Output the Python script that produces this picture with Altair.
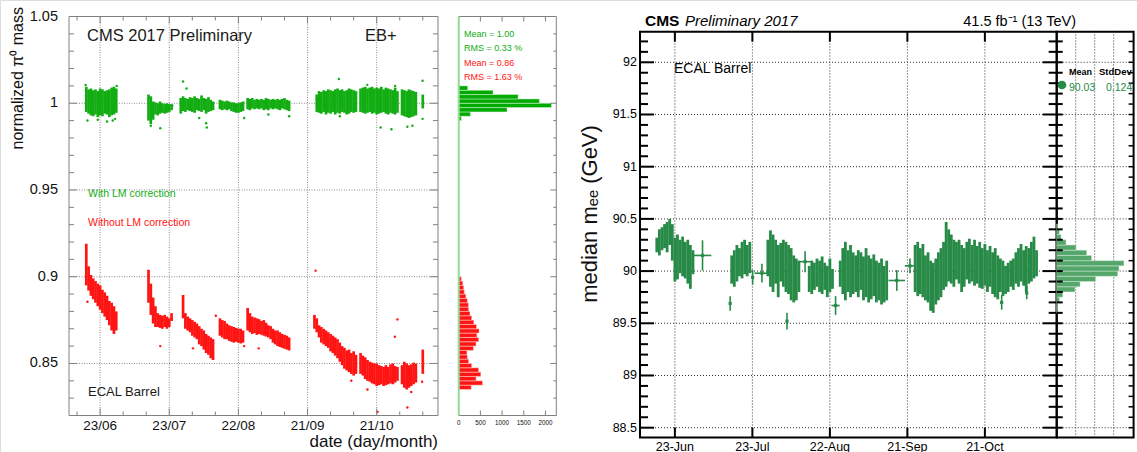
import altair as alt
import pandas as pd

SANS = "Liberation Sans, Arial, Helvetica, sans-serif"

# ---------------- values ----------------
# x positions are days after 23 June 2017
TICK_DAYS = [0, 30, 60, 90, 120]
LEFT_TICK_LABELS = ["23/06", "23/07", "22/08", "21/09", "21/10"]
RIGHT_TICK_LABELS = ["23-Jun", "23-Jul", "22-Aug", "21-Sep", "21-Oct"]
LEFT_MINOR_DAYS = [-10, 10, 20, 40, 50, 70, 80, 100, 110, 130, 140]

LEFT_Y_LABELS = [0.85, 0.9, 0.95, 1.0, 1.05]
LEFT_Y_TEXT = ["0.85", "0.9", "0.95", "1", "1.05"]
LEFT_Y_MAJOR = [0.85, 0.9, 0.95, 1.0]
LEFT_Y_MINOR = [0.82, 0.83, 0.84, 0.86, 0.87, 0.88, 0.89, 0.91, 0.92, 0.93, 0.94,
                0.96, 0.97, 0.98, 0.99, 1.01, 1.02, 1.03, 1.04]
LH_X_LABELS = [0, 500, 1000, 1500, 2000]
LH_X_TEXT = ["0", "500", "1000", "1500", "2000"]

RIGHT_Y_MAJOR = [88.5, 89, 89.5, 90, 90.5, 91, 91.5, 92]
RIGHT_Y_TEXT = ["88.5", "89", "89.5", "90", "90.5", "91", "91.5", "92"]
RIGHT_Y_MINOR = [88.6, 88.7, 88.8, 88.9, 89.1, 89.2, 89.3, 89.4, 89.6, 89.7, 89.8, 89.9,
                 90.1, 90.2, 90.3, 90.4, 90.6, 90.7, 90.8, 90.9, 91.1, 91.2, 91.3, 91.4,
                 91.6, 91.7, 91.8, 91.9, 92.1, 92.2]
RH_GRID = [100, 200, 300]

# (day, low, high) spread of normalized pi0 mass, with LM correction
L_CORR = [
    (-6, .9950, 1.0095), (-5, .9940, 1.0080), (-4, .9930, 1.0085), (-3, .9925, 1.0075),
    (-2, .9935, 1.0080), (-1, .9920, 1.0070), (0, .9930, 1.0085), (1, .9925, 1.0080),
    (2, .9940, 1.0070), (3, .9935, 1.0075), (4, .9920, 1.0080), (5, .9930, 1.0090),
    (6, .9935, 1.0095), (7, .9945, 1.0085),
    (21, .9900, 1.0050), (22, .9880, 1.0040), (23, .9905, 1.0010), (24, .9935, 1.0005),
    (25, .9930, 1.0000), (26, .9940, 1.0010), (27, .9945, 1.0000), (28, .9940, .9995),
    (29, .9945, 1.0000), (30, .9950, .9995), (31, .9960, .9995),
    (35, .9940, 1.0030), (36, .9955, 1.0040), (37, .9950, 1.0030), (38, .9960, 1.0025),
    (39, .9955, 1.0035), (40, .9950, 1.0030), (41, .9945, 1.0040), (42, .9960, 1.0030),
    (43, .9955, 1.0025), (44, .9950, 1.0045), (45, .9960, 1.0030), (46, .9940, 1.0025),
    (47, .9950, 1.0035), (48, .9955, 1.0020), (49, .9960, 1.0010),
    (52, .9965, 1.0020), (53, .9960, 1.0015), (54, .9965, 1.0010), (55, .9960, 1.0015),
    (56, .9965, 1.0010), (57, .9955, 1.0005), (58, .9950, 1.0005), (59, .9945, 1.0000),
    (60, .9945, 1.0000), (61, .9950, 1.0005), (62, .9955, 1.0010),
    (64, .9965, 1.0030), (65, .9960, 1.0025), (66, .9970, 1.0030), (67, .9965, 1.0020),
    (68, .9970, 1.0025), (69, .9965, 1.0020), (70, .9970, 1.0025), (71, .9960, 1.0020),
    (72, .9965, 1.0030), (73, .9960, 1.0025), (74, .9970, 1.0020), (75, .9965, 1.0025),
    (76, .9970, 1.0020), (77, .9965, 1.0025), (78, .9960, 1.0020), (79, .9970, 1.0025),
    (80, .9965, 1.0030), (81, .9960, 1.0020), (82, .9955, 1.0015),
    (94, .9950, 1.0050), (95, .9945, 1.0070), (96, .9940, 1.0065), (97, .9950, 1.0075),
    (98, .9935, 1.0070), (99, .9945, 1.0080), (100, .9940, 1.0075), (101, .9950, 1.0070),
    (102, .9935, 1.0080), (103, .9945, 1.0085), (104, .9940, 1.0075), (105, .9950, 1.0080),
    (106, .9945, 1.0070), (107, .9935, 1.0075), (108, .9940, 1.0085), (109, .9950, 1.0080),
    (110, .9945, 1.0075), (111, .9950, 1.0070),
    (113, .9950, 1.0085), (114, .9945, 1.0090), (115, .9940, 1.0095), (116, .9945, 1.0085),
    (117, .9950, 1.0090), (118, .9940, 1.0095), (119, .9945, 1.0085), (120, .9935, 1.0090),
    (121, .9940, 1.0085), (122, .9945, 1.0095), (123, .9950, 1.0080), (124, .9940, 1.0090),
    (125, .9935, 1.0085), (126, .9945, 1.0080), (127, .9940, 1.0075), (128, .9935, 1.0090),
    (129, .9945, 1.0070),
    (131, .9930, 1.0080), (132, .9925, 1.0075), (133, .9920, 1.0070), (134, .9915, 1.0080),
    (135, .9920, 1.0075), (136, .9925, 1.0070), (137, .9930, 1.0065),
    (140, .9970, 1.0050),
]
# (day, low, high) without LM correction
L_RAW = [
    (-6, .8950, .9190), (-5, .8920, .9060), (-4, .8890, .9010), (-3, .8870, .8990),
    (-2, .8850, .8975), (-1, .8830, .8960), (0, .8810, .8950), (1, .8790, .8925),
    (2, .8770, .8910), (3, .8750, .8890), (4, .8720, .8860), (5, .8690, .8850),
    (6, .8670, .8830), (7, .8690, .8800),
    (21, .8850, .9040), (22, .8780, .8960), (23, .8730, .8880), (24, .8710, .8830),
    (25, .8710, .8790), (26, .8705, .8780), (27, .8700, .8775), (28, .8710, .8780),
    (29, .8700, .8770), (30, .8710, .8760), (31, .8745, .8790),
    (36, .8760, .8895), (37, .8700, .8790), (38, .8690, .8770), (39, .8680, .8760),
    (40, .8660, .8750), (41, .8650, .8740), (42, .8640, .8730), (43, .8610, .8715),
    (44, .8600, .8700), (45, .8580, .8690), (46, .8560, .8670), (47, .8550, .8660),
    (48, .8530, .8650), (49, .8520, .8640),
    (52, .8660, .8760), (53, .8650, .8750), (54, .8640, .8745), (55, .8640, .8730),
    (56, .8630, .8720), (57, .8625, .8715), (58, .8620, .8710), (59, .8625, .8705),
    (60, .8620, .8700), (61, .8615, .8700), (62, .8620, .8690),
    (64, .8690, .8820), (65, .8680, .8790), (66, .8670, .8770), (67, .8675, .8765),
    (68, .8665, .8760), (69, .8670, .8755), (70, .8665, .8745), (71, .8660, .8750),
    (72, .8655, .8735), (73, .8650, .8720), (74, .8640, .8715), (75, .8620, .8700),
    (76, .8610, .8690), (77, .8600, .8690), (78, .8595, .8680), (79, .8590, .8670),
    (80, .8585, .8665), (81, .8580, .8660), (82, .8575, .8650),
    (93, .8700, .8780), (94, .8680, .8760), (95, .8650, .8720), (96, .8620, .8710),
    (97, .8610, .8700), (98, .8600, .8690), (99, .8590, .8680), (100, .8570, .8670),
    (101, .8560, .8660), (102, .8545, .8650), (103, .8530, .8640), (104, .8510, .8620),
    (105, .8490, .8600), (106, .8470, .8590), (107, .8460, .8575), (108, .8450, .8580),
    (109, .8440, .8560), (110, .8430, .8570), (111, .8440, .8550),
    (113, .8440, .8560), (114, .8430, .8545), (115, .8410, .8535), (116, .8400, .8520),
    (117, .8395, .8510), (118, .8385, .8505), (119, .8380, .8500), (120, .8370, .8500),
    (121, .8375, .8490), (122, .8380, .8485), (123, .8370, .8480), (124, .8375, .8490),
    (125, .8380, .8480), (126, .8385, .8495), (127, .8380, .8500), (128, .8390, .8485),
    (129, .8400, .8480),
    (131, .8380, .8490), (132, .8360, .8510), (133, .8350, .8500), (134, .8360, .8490),
    (135, .8370, .8495), (136, .8380, .8505), (137, .8390, .8500),
    (140, .8440, .8580),
]
# isolated points (day, value)
L_CORR_OUT = [(-6.3, 1.0105), (-5.5, .9900), (-1, .9905), (3, .9895), (5.5, .9900), (6.5, .9910),
              (7.2, 1.0100), (22, .9870), (26.1, .9856), (31.3, .9985), (36, 1.0125),
              (37.5, 1.0085), (43, .9915), (46, .9885), (46.3, .9860), (62.5, .9915),
              (73, .9935), (82, .9925), (103.6, 1.0140), (104, .9925), (115.9, 1.0106),
              (121.7, .9860), (126.4, .9850), (128, 1.0100), (133.3, .9865), (135.5, .9870),
              (139.9, .9910), (139.9, 1.0130)]
L_RAW_OUT = [(-5.5, .8856), (26.1, .8600), (40.3, .8587), (50.2, .8775), (62.5, .8600),
             (68.8, .8587), (93.5, .9035), (109, .8400), (116, .8350), (120.4, .8221),
             (127.9, .8654), (129, .8754), (133.3, .8246), (135, .8335), (139.7, .8395)]

# projection histograms of the left panel
LH_CORR_EDGES = [0.9900, 0.9925, 0.9950, 0.9975, 1.0000, 1.0025, 1.0050, 1.0075, 1.0100]
LH_CORR_COUNTS = [60, 270, 1115, 2140, 1860, 1370, 792, 208]
LH_RAW_EDGES = [0.8350, 0.8375, 0.8400, 0.8425, 0.8450, 0.8475, 0.8500, 0.8525, 0.8550,
                0.8575, 0.8600, 0.8625, 0.8650, 0.8675, 0.8700, 0.8725, 0.8750, 0.8775,
                0.8800, 0.8825, 0.8850, 0.8875, 0.8900, 0.8925, 0.8950, 0.8975, 0.9000]
LH_RAW_COUNTS = [290, 550, 400, 510, 460, 300, 230, 200, 190, 340, 400, 460, 420, 470,
                 410, 350, 300, 260, 230, 225, 200, 165, 130, 115, 95, 60]

# (day, low, high) spread of the median m_ee points incl. their error bars
R_MED = [
    (-7, 90.18, 90.32), (-6, 90.15, 90.40), (-5, 90.20, 90.42), (-4, 90.22, 90.45),
    (-3, 90.18, 90.47), (-2, 90.25, 90.50), (-1, 90.10, 90.45), (0, 89.90, 90.32),
    (1, 89.92, 90.35), (2, 89.98, 90.30), (3, 89.95, 90.33), (4, 89.93, 90.28),
    (5, 89.88, 90.30), (6, 89.83, 90.25), (7, 89.97, 90.20),
    (22, 89.88, 90.15), (23, 89.85, 90.20), (24, 89.90, 90.25), (25, 89.95, 90.22),
    (26, 89.93, 90.28), (27, 89.97, 90.30), (28, 89.95, 90.25), (29, 89.98, 90.28),
    (36, 89.95, 90.30), (37, 89.85, 90.39), (38, 89.80, 90.35), (39, 89.88, 90.30),
    (40, 89.75, 90.25), (41, 89.90, 90.27), (42, 89.85, 90.30), (43, 89.80, 90.28),
    (44, 89.78, 90.25), (45, 89.72, 90.22), (46, 89.70, 90.15), (47, 89.72, 90.12),
    (48, 89.80, 90.10),
    (52, 89.80, 90.05), (53, 89.78, 90.10), (54, 89.82, 90.08), (55, 89.85, 90.12),
    (56, 89.80, 90.10), (57, 89.78, 90.14), (58, 89.82, 90.08), (59, 89.75, 90.05),
    (60, 89.80, 90.12), (61, 89.83, 90.02),
    (64, 89.85, 90.10), (65, 89.78, 90.22), (66, 89.72, 90.28), (67, 89.80, 90.20),
    (68, 89.75, 90.25), (69, 89.78, 90.18), (70, 89.80, 90.15), (71, 89.75, 90.20),
    (72, 89.82, 90.18), (73, 89.72, 90.14), (74, 89.75, 90.22), (75, 89.70, 90.15),
    (76, 89.73, 90.12), (77, 89.76, 90.16), (78, 89.70, 90.10), (79, 89.72, 90.08),
    (80, 89.68, 90.12), (81, 89.70, 90.05), (82, 89.72, 90.10),
    (93, 89.80, 90.25), (94, 89.76, 90.28), (95, 89.78, 90.22), (96, 89.75, 90.26),
    (97, 89.72, 90.15), (98, 89.70, 90.18), (99, 89.62, 90.10), (100, 89.60, 90.08),
    (101, 89.68, 90.12), (102, 89.72, 90.18), (103, 89.75, 90.22), (104, 89.82, 90.28),
    (105, 89.85, 90.47), (106, 89.90, 90.40), (107, 89.88, 90.35), (108, 89.85, 90.30),
    (109, 89.92, 90.28), (110, 89.88, 90.30), (111, 89.80, 90.25), (112, 89.85, 90.22),
    (113, 89.92, 90.28), (114, 89.88, 90.31), (115, 89.90, 90.25), (116, 89.86, 90.30),
    (117, 89.88, 90.24), (118, 89.84, 90.28), (119, 89.83, 90.22), (120, 89.86, 90.26),
    (121, 89.80, 90.20), (122, 89.85, 90.24), (123, 89.78, 90.18), (124, 89.75, 90.22),
    (125, 89.73, 90.15), (126, 89.80, 90.12), (127, 89.76, 90.10), (128, 89.78, 90.05),
    (129, 89.80, 90.08), (130, 89.85, 90.10), (131, 89.82, 90.12), (132, 89.88, 90.18),
    (133, 89.85, 90.22), (134, 89.90, 90.26), (135, 89.86, 90.20), (136, 89.80, 90.24),
    (137, 89.88, 90.22), (138, 89.90, 90.28), (139, 89.93, 90.33), (140, 89.95, 90.20),
]
# isolated points: (day, median, half width in days, error)
R_ISO = [(10.7, 90.15, 3.4, 0.145), (21.4, 89.69, 0, 0.07), (30.1, 89.94, 0, 0.07),
         (33.7, 89.98, 2.9, 0.09), (43.4, 89.52, 0, 0.08), (50.4, 90.09, 2.3, 0.10),
         (62.2, 89.67, 1.6, 0.09), (85.9, 89.91, 3.2, 0.10), (91.0, 90.05, 2.0, 0.07),
         (126.5, 89.70, 0, 0.07), (136.2, 89.79, 0, 0.06)]

RH_EDGES = [89.60, 89.65, 89.70, 89.75, 89.80, 89.85, 89.90, 89.95, 90.00, 90.05, 90.10,
            90.15, 90.20, 90.25, 90.30, 90.35, 90.40, 90.45]
RH_COUNTS = [3, 4, 14, 32, 96, 123, 205, 321, 328, 354, 184, 158, 102, 49, 23, 14, 5]

# ---------------- styling ----------------
GREEN = "#12ad12"
RED = "#ff1414"
LH_GREEN = "#00aa00"
GRAY = "#808080"
RGREEN = "#278a47"
RH_FILL = "#55a66a"

L_XDOM = [-13.5, 146.6]
L_YDOM = [0.82, 1.05]
LH_XDOM = [0, 2250]
R_XDOM = [-13.5, 147.8]
R_YDOM = [88.406, 92.293]
RH_XDOM = [0, 405]

LX = alt.Scale(domain=L_XDOM, range=[69, 438], nice=False, zero=False)
LY = alt.Scale(domain=L_YDOM, range=[415.5, 16.5], nice=False, zero=False)
LHX = alt.Scale(domain=LH_XDOM, range=[458.7, 556.3], nice=False, zero=False)
RX = alt.Scale(domain=R_XDOM, range=[640, 1056.7], nice=False, zero=False)
RY = alt.Scale(domain=R_YDOM, range=[437.5, 31.7], nice=False, zero=False)
RHX = alt.Scale(domain=RH_XDOM, range=[1056.7, 1133.6], nice=False, zero=False)

ONE = pd.DataFrame({"k": [0]})


def frame(xdom, ydom, xsc, ysc, color, width):
    df = pd.DataFrame({"x0": [xdom[0]], "x1": [xdom[1]], "y0": [ydom[0]], "y1": [ydom[1]]})
    return alt.Chart(df).mark_rect(fillOpacity=0, stroke=color, strokeWidth=width).encode(
        x=alt.X("x0:Q", scale=xsc, axis=None),
        x2="x1:Q",
        y=alt.Y("y0:Q", scale=ysc, axis=None),
        y2="y1:Q",
    )


def hticks(vals, xd, length, color, width):
    df = pd.DataFrame({"v": vals, "e": [xd] * len(vals)})
    return alt.Chart(df).mark_rule(color=color, strokeWidth=width, x2Offset=length).encode(
        x=alt.X("e:Q", axis=None), x2="e:Q", y=alt.Y("v:Q", axis=None))


def vticks(vals, yd, length, color, width):
    df = pd.DataFrame({"v": vals, "e": [yd] * len(vals)})
    return alt.Chart(df).mark_rule(color=color, strokeWidth=width, y2Offset=length).encode(
        y=alt.Y("e:Q", axis=None), y2="e:Q", x=alt.X("v:Q", axis=None))


def ylabels(vals, texts, xd, pad, size, color):
    df = pd.DataFrame({"v": vals, "t": texts, "e": [xd] * len(vals)})
    return alt.Chart(df).mark_text(align="right", baseline="middle", dx=-pad, font=SANS,
                                   fontSize=size, color=color).encode(
        x=alt.X("e:Q", axis=None), y=alt.Y("v:Q", axis=None), text="t:N")


def xlabels(vals, texts, yd, pad, size, color):
    df = pd.DataFrame({"v": vals, "t": texts, "e": [yd] * len(vals)})
    return alt.Chart(df).mark_text(align="center", baseline="top", dy=pad, font=SANS,
                                   fontSize=size, color=color).encode(
        x=alt.X("v:Q", axis=None), y=alt.Y("e:Q", axis=None), text="t:N")


def vgrid(vals, ydom, color, dash):
    df = pd.DataFrame({"v": vals, "a": [ydom[0]] * len(vals), "b": [ydom[1]] * len(vals)})
    return alt.Chart(df).mark_rule(color=color, strokeWidth=1, strokeDash=dash).encode(
        x=alt.X("v:Q", axis=None), y=alt.Y("a:Q", axis=None), y2="b:Q")


def hgrid(vals, xdom, color, dash):
    df = pd.DataFrame({"v": vals, "a": [xdom[0]] * len(vals), "b": [xdom[1]] * len(vals)})
    return alt.Chart(df).mark_rule(color=color, strokeWidth=1, strokeDash=dash).encode(
        y=alt.Y("v:Q", axis=None), x=alt.X("a:Q", axis=None), x2="b:Q")


def spread(rows, color, width):
    df = pd.DataFrame(rows, columns=["d", "lo", "hi"])
    return alt.Chart(df).mark_rule(color=color, strokeWidth=width).encode(
        x=alt.X("d:Q", axis=None), y=alt.Y("lo:Q", axis=None), y2="hi:Q")


def dots(rows, color):
    df = pd.DataFrame(rows, columns=["d", "v"])
    return alt.Chart(df).mark_circle(color=color, size=6, opacity=1).encode(
        x=alt.X("d:Q", axis=None), y=alt.Y("v:Q", axis=None))


def hist(edges, counts, color, sep):
    df = pd.DataFrame({"lo": edges[:-1], "hi": edges[1:], "n": counts,
                       "z": [0] * len(counts)})
    return alt.Chart(df).mark_rect(color=color, stroke=sep, strokeWidth=0.5).encode(
        x=alt.X("z:Q", axis=None), x2="n:Q",
        y=alt.Y("lo:Q", axis=None), y2="hi:Q")


def txt(s, x, y, size, color="black", align="left", baseline="alphabetic",
        weight="normal", style="normal", angle=0):
    return alt.Chart(ONE).mark_text(
        text=s, align=align, baseline=baseline, font=SANS, fontSize=size,
        fontWeight=weight, fontStyle=style, angle=angle, color=color,
        x=x, y=y,
    )


# ---------------- left panel: pi0 mass vs date ----------------
left = alt.layer(
    frame(L_XDOM, L_YDOM, LX, LY, GRAY, 1),
    vgrid(TICK_DAYS, L_YDOM, "#8c8c8c", [1, 1.5]),
    hgrid(LEFT_Y_MAJOR, L_XDOM, "#8c8c8c", [1, 1.5]),
    spread(L_CORR, GREEN, 2.7),
    spread(L_RAW, RED, 2.7),
    dots(L_CORR_OUT, GREEN),
    dots(L_RAW_OUT, RED),
    hticks(LEFT_Y_MAJOR, L_XDOM[0], 8, GRAY, 1),
    hticks(LEFT_Y_MINOR, L_XDOM[0], 5, GRAY, 1),
    hticks(LEFT_Y_MAJOR, L_XDOM[1], -8, GRAY, 1),
    hticks(LEFT_Y_MINOR, L_XDOM[1], -5, GRAY, 1),
    vticks(TICK_DAYS, L_YDOM[0], -7, GRAY, 1),
    vticks(LEFT_MINOR_DAYS, L_YDOM[0], -4, GRAY, 1),
    vticks(TICK_DAYS, L_YDOM[1], 7, GRAY, 1),
    vticks(LEFT_MINOR_DAYS, L_YDOM[1], 4, GRAY, 1),
    ylabels(LEFT_Y_LABELS, LEFT_Y_TEXT, L_XDOM[0], 11, 14.5, "#111"),
    xlabels(TICK_DAYS, LEFT_TICK_LABELS, L_YDOM[0], 3, 13.5, "#111"),
)

# ---------------- left projection histogram ----------------
edge_df = pd.DataFrame({"x": [0], "a": [L_YDOM[0]], "b": [L_YDOM[1]]})
green_edge = alt.Chart(edge_df).mark_rule(color="#95dc95", strokeWidth=2).encode(
    x=alt.X("x:Q", axis=None), y=alt.Y("a:Q", axis=None), y2="b:Q")
left_hist = alt.layer(
    frame(LH_XDOM, L_YDOM, LHX, LY, GRAY, 1),
    hist(LH_CORR_EDGES, LH_CORR_COUNTS, LH_GREEN, "#d8f5d8"),
    hist(LH_RAW_EDGES, LH_RAW_COUNTS, RED, "#ffd8d8"),
    hticks(LEFT_Y_MAJOR, LH_XDOM[1], -6, GRAY, 1),
    hticks(LEFT_Y_MINOR, LH_XDOM[1], -3, GRAY, 1),
    vticks(LH_X_LABELS[1:], L_YDOM[1], 5, GRAY, 1),
    vticks(LH_X_LABELS[1:], L_YDOM[0], -5, GRAY, 1),
    green_edge,
    xlabels(LH_X_LABELS, LH_X_TEXT, L_YDOM[0], 4, 6.3, "#111"),
)

# ---------------- right panel: median m_ee vs date ----------------
iso = pd.DataFrame(R_ISO, columns=["d", "v", "dx", "dv"])
iso["lo"] = iso["v"] - iso["dv"]
iso["hi"] = iso["v"] + iso["dv"]
iso["x0"] = iso["d"] - iso["dx"]
iso["x1"] = iso["d"] + iso["dx"]
iso_v = alt.Chart(iso).mark_rule(color=RGREEN, strokeWidth=1.6).encode(
    x=alt.X("d:Q", axis=None), y=alt.Y("lo:Q", axis=None), y2="hi:Q")
iso_h = alt.Chart(iso).mark_rule(color=RGREEN, strokeWidth=1.6).encode(
    x=alt.X("x0:Q", axis=None), x2="x1:Q", y=alt.Y("v:Q", axis=None))
iso_p = alt.Chart(iso).mark_square(color=RGREEN, size=10, opacity=1).encode(
    x=alt.X("d:Q", axis=None), y=alt.Y("v:Q", axis=None))

right = alt.layer(
    frame(R_XDOM, R_YDOM, RX, RY, "black", 2),
    vgrid(TICK_DAYS, R_YDOM, "#333", [1, 2]),
    hgrid(RIGHT_Y_MAJOR, R_XDOM, "#333", [1, 2]),
    spread(R_MED, RGREEN, 2.8),
    iso_v, iso_h, iso_p,
    hticks(RIGHT_Y_MAJOR, R_XDOM[0], 14, "black", 2),
    hticks(RIGHT_Y_MINOR, R_XDOM[0], 8, "black", 2),
    hticks(RIGHT_Y_MAJOR, R_XDOM[1], -14, "black", 2),
    hticks(RIGHT_Y_MINOR, R_XDOM[1], -8, "black", 2),
    vticks(TICK_DAYS, R_YDOM[0], -10, "black", 2),
    vticks(TICK_DAYS, R_YDOM[1], 10, "black", 2),
    ylabels(RIGHT_Y_MAJOR, RIGHT_Y_TEXT, R_XDOM[0], 3, 12.5, "black"),
    xlabels(TICK_DAYS, RIGHT_TICK_LABELS, R_YDOM[0], 3, 12.5, "black"),
)

# ---------------- right projection histogram ----------------
right_hist = alt.layer(
    frame(RH_XDOM, R_YDOM, RHX, RY, "black", 2),
    hgrid(RIGHT_Y_MAJOR, RH_XDOM, "#333", [1, 2]),
    vgrid(RH_GRID, R_YDOM, "#333", [1, 2]),
    hist(RH_EDGES, RH_COUNTS, RH_FILL, "#cfe8d6"),
    hticks(RIGHT_Y_MAJOR + RIGHT_Y_MINOR, RH_XDOM[0], 6, "black", 2),
    hticks(RIGHT_Y_MAJOR + RIGHT_Y_MINOR, RH_XDOM[1], -5, "black", 1.5),
)

texts = [
    txt("normalized  π⁰  mass", 18, 7, 16, "#111", align="right", baseline="middle", angle=270),
    txt("CMS 2017 Preliminary", 87, 41, 16.5, "#1a1a1a"),
    txt("EB+", 365, 41, 16.5, "#1a1a1a"),
    txt("With LM correction", 88, 196.5, 10.5, GREEN),
    txt("Without LM correction", 88, 225.5, 10.5, RED),
    txt("ECAL Barrel", 88, 396, 13, "#1a1a1a"),
    txt("date (day/month)", 438, 447, 17, "#111", align="right"),
    txt("Mean = 1.00", 464, 36.5, 9, GREEN),
    txt("RMS = 0.33 %", 464, 51, 9, GREEN),
    txt("Mean = 0.86", 464, 65.5, 9, RED),
    txt("RMS = 1.63 %", 464, 80, 9, RED),
    txt("CMS", 645, 26, 15.5, "black", weight="bold"),
    txt("Preliminary 2017", 685, 26, 15, "black", style="italic"),
    txt("41.5 fb⁻¹ (13 TeV)", 1076, 26, 14.5, "black", align="right"),
    txt("ECAL Barrel", 674, 73, 14, "black"),
    txt("median mₑₑ (GeV)", 590, 214, 22, "#111", align="center", baseline="middle", angle=270),
    txt("Mean", 1069, 75, 9, "black", weight="bold"),
    txt("StdDev", 1099, 75, 9.5, "black", weight="bold"),
    txt("90.03", 1069, 90.5, 10.5, RGREEN),
    txt("0.124", 1106, 90.5, 10.5, RGREEN),
    alt.Chart(ONE).mark_circle(color=RGREEN, size=75, opacity=1, x=1062, y=85),
]

chart = alt.layer(left, left_hist, right, right_hist, *texts).resolve_scale(
    x="independent", y="independent"
).properties(
    width=1137, height=452, autosize=alt.AutoSizeParams(type="none"), padding=0,
    background="white",
)

chart.save("out.html", embed_options={"renderer": "svg", "actions": False})
